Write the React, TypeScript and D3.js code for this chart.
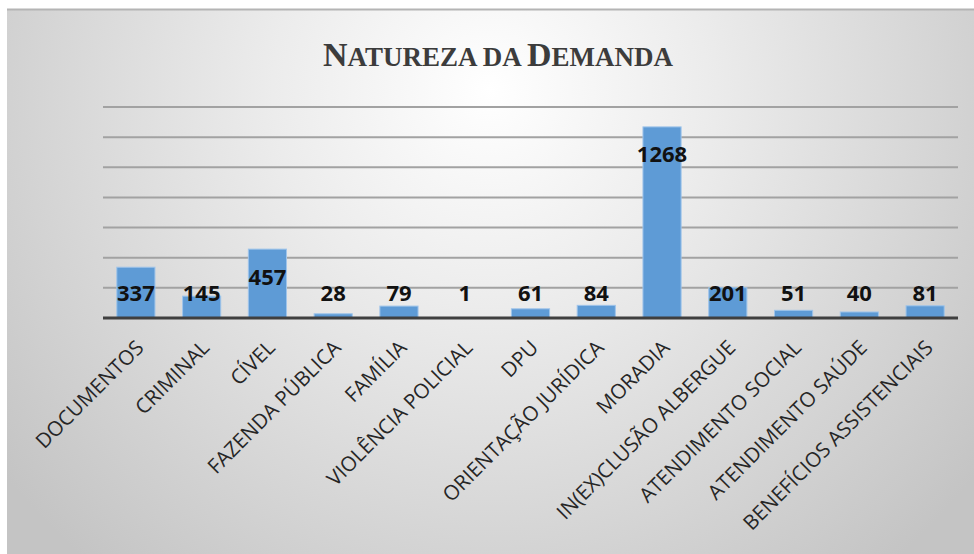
import React from 'react';
import * as d3 from 'd3';

const categories = [
  'DOCUMENTOS',
  'CRIMINAL',
  'CÍVEL',
  'FAZENDA PÚBLICA',
  'FAMÍLIA',
  'VIOLÊNCIA POLICIAL',
  'DPU',
  'ORIENTAÇÃO JURÍDICA',
  'MORADIA',
  'IN(EX)CLUSÃO ALBERGUE',
  'ATENDIMENTO SOCIAL',
  'ATENDIMENTO SAÚDE',
  'BENEFÍCIOS ASSISTENCIAIS',
];
const values = [337, 145, 457, 28, 79, 1, 61, 84, 1268, 201, 51, 40, 81];
const gridTicks = [200, 400, 600, 800, 1000, 1200, 1400];

const W = 974;
const H = 554;
const plot = { left: 103, right: 958, top: 107, bottom: 318 };

export default function App() {
  const x = d3
    .scaleBand<string>()
    .domain(categories)
    .range([plot.left, plot.right])
    .paddingInner(0.42)
    .paddingOuter(0.21);
  const y = d3.scaleLinear().domain([0, 1400]).range([plot.bottom, plot.top]);

  // labels sit just inside the bar top, but never lower than a fixed row
  const labelCenter = (v: number) => Math.min(y(v) + 27.5, plot.bottom - 25);

  return (
    <svg width={W} height={H} style={{ position: 'absolute', left: 0, top: 0 }}>
      <defs>
        <radialGradient id="bg" cx="490" cy="90" r="620" gradientUnits="userSpaceOnUse">
          <stop offset="0" stopColor="#ffffff" />
          <stop offset="0.35" stopColor="#ececec" />
          <stop offset="1" stopColor="#c4c4c4" />
        </radialGradient>
      </defs>
      <rect x={0} y={0} width={W} height={H} fill="#ffffff" />
      <rect x={7} y={9} width={W - 7} height={H - 9} fill="url(#bg)" />
      <line x1={7} x2={W} y1={9.5} y2={9.5} stroke="#b4b4b4" strokeWidth={2} />

      <text
        x={(323 + 673) / 2}
        y={66}
        textAnchor="middle"
        fontFamily="'Liberation Serif', 'DejaVu Serif', serif"
        fontWeight="bold"
        fill="#3c3c3c"
        textLength={350}
        lengthAdjust="spacingAndGlyphs"
      >
        <tspan fontSize={34}>N</tspan>
        <tspan fontSize={27}>ATUREZA DA </tspan>
        <tspan fontSize={34}>D</tspan>
        <tspan fontSize={27}>EMANDA</tspan>
      </text>

      {gridTicks.map((t) => (
        <line
          key={t}
          x1={plot.left}
          x2={plot.right}
          y1={y(t)}
          y2={y(t)}
          stroke="#a2a2a2"
          strokeWidth={2}
        />
      ))}

      {categories.map((c, i) => (
        <rect
          key={c}
          x={x(c)}
          y={y(values[i])}
          width={x.bandwidth()}
          height={plot.bottom - y(values[i])}
          fill="#5e9bd6"
          stroke="#9fc4ea"
          strokeWidth={1}
        />
      ))}

      <line
        x1={plot.left}
        x2={plot.right}
        y1={plot.bottom}
        y2={plot.bottom}
        stroke="#3f3f3f"
        strokeWidth={3}
      />

      {categories.map((c, i) => (
        <text
          key={'v' + c}
          x={(x(c) ?? 0) + x.bandwidth() / 2}
          y={labelCenter(values[i]) + 8}
          textAnchor="middle"
          fontFamily="'Open Sans', sans-serif"
          fontWeight="bold"
          fontSize={22}
          fill="#111111"
        >
          {values[i]}
        </text>
      ))}

      {categories.map((c) => {
        const cx = (x(c) ?? 0) + x.bandwidth() / 2;
        return (
          <text
            key={'c' + c}
            transform={`translate(${cx + 9},${349}) rotate(-45)`}
            textAnchor="end"
            fontFamily="'Open Sans', sans-serif"
            fontSize={20.5}
            fill="#262626"
          >
            {c}
          </text>
        );
      })}
    </svg>
  );
}
